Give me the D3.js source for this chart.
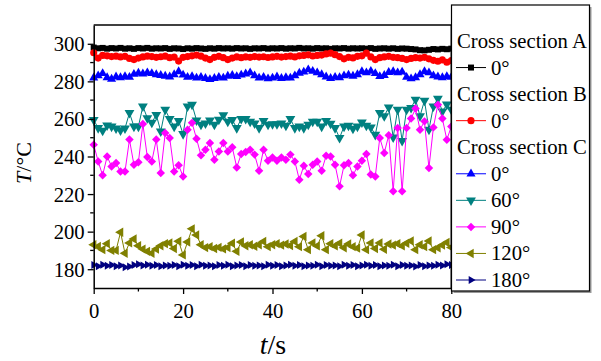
<!DOCTYPE html>
<html><head><meta charset="utf-8">
<script src="https://cdn.jsdelivr.net/npm/d3@7"></script>
<style>body{margin:0;background:#fff}svg{display:block}</style>
</head><body><svg id="c" width="601" height="361"></svg>
<script>
const times = [0,1,2,3,4,5,6,7,8,9,10,11,12,13,14,15,16,17,18,19,20,21,22,23,24,25,26,27,28,29,30,31,32,33,34,35,36,37,38,39,40,41,42,43,44,45,46,47,48,49,50,51,52,53,54,55,56,57,58,59,60,61,62,63,64,65,66,67,68,69,70,71,72,73,74,75,76,77,78,79,80];
const sectionA_0 = [298.0,297.6,297.8,297.4,297.7,297.5,297.8,297.4,297.6,297.3,297.7,297.5,297.8,297.4,297.6,297.5,297.7,297.3,297.6,297.5,297.2,297.6,297.4,297.7,297.5,297.3,297.6,297.4,297.7,297.5,297.6,297.4,297.7,297.5,297.6,297.3,297.6,297.5,297.7,297.4,297.6,297.5,297.7,297.4,297.6,297.5,297.8,297.5,297.6,297.4,297.7,297.5,297.6,297.3,297.6,297.5,297.7,297.4,297.6,297.5,297.6,297.4,297.7,297.3,297.5,297.6,297.4,297.6,297.3,297.5,297.4,297.2,297.0,296.6,296.5,296.8,297.2,297.0,297.3,297.1,297.4];
const sectionB_0 = [295.2,292.4,293.8,293.6,293.2,293.4,293.0,293.3,292.2,291.6,292.4,293.0,293.4,293.2,292.8,293.1,293.4,292.6,292.9,290.8,292.8,293.2,293.6,294.0,293.4,292.4,291.6,292.8,293.3,292.6,291.6,292.4,293.0,292.6,293.0,292.8,293.2,292.9,293.1,292.7,293.0,293.3,292.9,293.2,293.4,293.0,293.6,293.8,294.1,293.5,293.8,294.0,294.6,295.0,294.2,293.2,292.0,292.8,292.5,293.3,293.6,295.0,293.0,291.6,292.6,293.0,293.3,292.8,292.6,292.2,291.6,292.2,292.6,292.4,292.8,292.0,291.2,290.7,291.4,290.2,291.0];
const sectionC_0 = [281.9,283.0,284.2,282.0,281.2,282.4,282.0,282.6,282.2,283.8,284.4,284.0,284.6,284.2,283.6,283.2,282.8,282.4,283.6,285.2,283.4,282.2,282.6,281.8,282.2,281.6,281.0,281.6,282.2,281.8,282.8,283.2,282.6,283.4,284.0,284.6,283.0,281.8,282.2,281.4,281.8,282.4,281.6,282.0,281.8,283.0,284.4,285.0,286.2,285.4,284.6,283.6,282.4,281.6,282.2,282.0,283.0,283.4,282.8,283.6,285.2,284.6,285.4,284.2,282.6,283.2,284.8,285.2,284.6,285.0,282.2,281.4,282.0,283.6,285.2,284.6,283.0,282.4,282.0,282.6,282.2];
const sectionC_60 = [259.5,255.2,253.8,256.6,256.0,255.0,254.0,255.0,263.2,256.0,256.0,266.7,260.5,258.0,262.2,253.4,265.0,260.0,256.0,259.0,252.0,266.7,267.6,259.3,257.0,257.6,259.3,257.0,259.6,262.0,258.6,259.5,255.2,260.0,260.0,258.6,257.7,255.2,259.0,257.0,257.3,257.3,257.7,256.5,260.0,255.2,256.0,255.2,257.0,258.6,258.6,256.0,259.0,257.5,255.2,249.9,256.0,256.5,254.9,256.0,258.2,256.5,255.5,251.6,263.2,261.5,266.2,250.2,265.0,248.4,265.0,265.9,270.3,261.5,269.8,254.3,266.7,270.8,264.0,267.7,265.0];
const sectionC_90 = [246.3,237.4,230.0,240.0,234.7,236.5,232.0,232.0,249.0,235.6,236.9,257.3,239.7,237.4,249.0,231.2,252.5,249.9,232.0,235.3,229.4,254.3,257.9,249.5,240.6,243.6,247.2,238.3,242.7,247.2,242.7,244.9,234.2,241.3,242.4,243.6,241.0,232.4,243.6,237.8,239.5,237.8,239.5,238.3,241.0,237.4,227.6,235.1,230.7,235.6,237.4,232.4,240.4,240.0,235.6,224.1,235.3,236.5,230.0,234.7,237.8,241.3,230.4,229.4,249.9,241.9,251.3,221.5,255.2,221.5,255.2,260.2,265.5,254.3,258.7,233.9,255.5,267.6,260.2,248.9,256.0];
const sectionC_120 = [193.0,192.1,190.4,193.6,190.0,190.0,199.7,188.5,194.0,196.1,192.5,190.7,189.5,188.5,190.7,192.5,193.6,194.0,191.0,194.9,187.6,194.5,201.5,198.2,193.0,191.5,192.0,191.0,191.6,190.8,191.5,193.8,189.5,194.5,192.5,193.0,192.2,193.0,194.8,192.0,193.0,193.6,192.8,193.4,192.6,194.8,192.0,197.4,190.4,194.0,192.4,197.8,190.4,193.6,192.4,193.8,191.4,193.4,192.0,191.2,198.2,190.4,194.0,191.0,194.0,190.6,193.4,192.8,193.6,192.4,193.8,195.0,190.4,193.0,192.0,195.0,190.4,191.4,192.8,194.2,191.6];
const sectionC_180 = [182.2,181.6,182.4,181.8,182.2,181.6,182.0,181.0,181.4,182.2,182.6,182.0,182.4,181.8,182.2,181.6,182.0,181.8,182.2,181.6,182.4,181.8,182.2,181.6,182.4,181.8,182.0,181.6,182.2,181.8,182.4,181.6,182.0,182.2,181.6,182.2,181.8,182.0,181.6,182.4,181.8,182.2,181.6,182.0,182.4,181.8,182.2,181.6,182.0,181.8,182.4,181.6,182.2,181.8,182.0,181.6,182.4,181.8,182.2,181.6,182.0,182.4,181.8,182.2,181.6,182.0,181.8,182.4,181.6,182.2,181.8,182.0,181.4,182.2,181.6,182.0,181.8,182.4,182.0,182.6,182.2];
const xTicks = [0,20,40,60,80];
const xMinor = [10,30,50,70];
const yTicks = [180,200,220,240,260,280,300];
const yMinor = [190,210,230,250,270,290];
const seriesNames = ["0°","0°","0°","60°","90°","120°","180°"];
const legendHeaders = ["Cross section A","Cross section B","Cross section C"];

const FONT = "'Liberation Serif'";
const FS = 20.7;
const svg = d3.select("#c");
const L = 93.7, R = 451.3, T = 25, B = 288;
const x = d3.scaleLinear().domain([0,80]).range([L,R]);
const y = d3.scaleLinear().domain([170,310]).range([B,T]);

const series = [
  {v: sectionA_0, c:"#000000", sym:d3.symbolSquare, size:36, rot:0},
  {v: sectionB_0, c:"#ff0000", sym:d3.symbolCircle, size:40, rot:0},
  {v: sectionC_0, c:"#0000ff", sym:d3.symbolTriangle, size:36, rot:0},
  {v: sectionC_60, c:"#008080", sym:d3.symbolTriangle, size:42, rot:180},
  {v: sectionC_90, c:"#ff00ff", sym:d3.symbolSquare, size:36, rot:45},
  {v: sectionC_120, c:"#808000", sym:d3.symbolTriangle, size:38, rot:-90},
  {v: sectionC_180, c:"#000080", sym:d3.symbolTriangle, size:28, rot:90}
];

const line = d3.line().x((d,i)=>x(times[i])).y(d=>y(d));
series.forEach(s=>{
  const g = svg.append("g");
  g.append("path").attr("d", line(s.v)).attr("fill","none").attr("stroke",s.c).attr("stroke-width",1);
  const sp = d3.symbol().type(s.sym).size(s.size)();
  g.selectAll("path.m").data(s.v).join("path").attr("class","m")
    .attr("d", sp).attr("fill", s.c)
    .attr("transform",(d,i)=>`translate(${x(times[i])},${y(d)}) rotate(${s.rot})`);
});

// axes
const ax = svg.append("g").attr("transform",`translate(0,${B})`)
  .call(d3.axisBottom(x).tickValues(xTicks).tickSize(6).tickSizeOuter(0).tickPadding(4));
const ay = svg.append("g").attr("transform",`translate(${L},0)`)
  .call(d3.axisLeft(y).tickValues(yTicks).tickSize(6).tickSizeOuter(0).tickPadding(3));
[ax, ay].forEach(a=>{
  a.attr("font-family",null);
  a.select(".domain").attr("stroke","#000").attr("stroke-width",1.5);
  a.selectAll(".tick line").attr("stroke","#000").attr("stroke-width",1.3);
  a.selectAll(".tick text").attr("font-size",FS).attr("fill","#000").style("font-family",FONT);
});
ax.selectAll(".tick text").attr("dy","0.95em");
ay.selectAll(".tick text").attr("dy","0.34em");
svg.append("g").selectAll("line").data(xMinor).join("line")
  .attr("x1",d=>x(d)).attr("x2",d=>x(d)).attr("y1",B).attr("y2",B+3.5).attr("stroke","#000").attr("stroke-width",1.3);
svg.append("g").selectAll("line").data(yMinor).join("line")
  .attr("y1",d=>y(d)).attr("y2",d=>y(d)).attr("x1",L).attr("x2",L-3.5).attr("stroke","#000").attr("stroke-width",1.3);
// frame top/right
svg.append("line").attr("x1",L).attr("x2",R).attr("y1",T).attr("y2",T).attr("stroke","#000").attr("stroke-width",1.5);
svg.append("line").attr("x1",R).attr("x2",R).attr("y1",T).attr("y2",B).attr("stroke","#000").attr("stroke-width",1.5);

// axis titles
const yl = svg.append("text").attr("transform","translate(31,163) rotate(-90)").attr("text-anchor","middle")
  .attr("font-size",22).style("font-family",FONT);
yl.append("tspan").attr("font-style","italic").text("T");
yl.append("tspan").text("/°C");
const xl = svg.append("text").attr("x",273).attr("y",354).attr("text-anchor","middle")
  .attr("font-size",28).style("font-family",FONT);
xl.append("tspan").attr("font-style","italic").text("t");
xl.append("tspan").text("/s");

// legend
const lg = svg.append("g");
lg.append("rect").attr("x",453.5).attr("y",7).attr("width",138).attr("height",286).attr("fill","#999");
lg.append("rect").attr("x",451.5).attr("y",5).attr("width",138).attr("height",286).attr("fill","#fff").attr("stroke","#000").attr("stroke-width",1.2);
const rows = [
  {h:0},{s:0},{h:1},{s:1},{h:2},{s:2},{s:3},{s:4},{s:5},{s:6}
];
const rowY = d3.scaleLinear().domain([0,9]).range([41,280]);
rows.forEach((r,i)=>{
  const cy = rowY(i);
  if (r.h !== undefined) {
    lg.append("text").attr("x",457).attr("y",cy+7).attr("font-size",FS).style("font-family",FONT).text(legendHeaders[r.h]);
  } else {
    const s = series[r.s];
    lg.append("line").attr("x1",456).attr("x2",486).attr("y1",cy).attr("y2",cy).attr("stroke",s.c).attr("stroke-width",1);
    lg.append("path").attr("d",d3.symbol().type(s.sym).size(s.size)()).attr("fill",s.c)
      .attr("transform",`translate(471,${cy}) rotate(${s.rot})`);
    lg.append("text").attr("x",491).attr("y",cy+7).attr("font-size",FS).style("font-family",FONT).text(seriesNames[r.s]);
  }
});
</script></body></html>
